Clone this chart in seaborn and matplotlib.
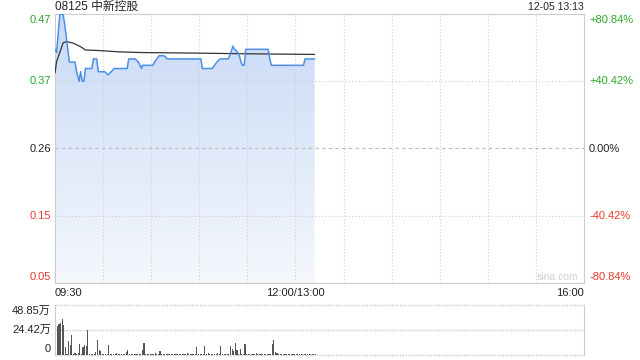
import numpy as np
import pandas as pd
import matplotlib
matplotlib.use("Agg")
import matplotlib.pyplot as plt
import seaborn as sns
from matplotlib.colors import LinearSegmentedColormap

sns.set_style("white")
plt.rcParams['font.family'] = ['Liberation Sans', 'Noto Sans CJK SC', 'DejaVu Sans']

# ---------------- data ----------------
title = "08125 中新控股"
stamp = "12-05 13:13"
prev_close = 0.26
pct_range = 0.8084
price_labels = ["0.47", "0.37", "0.26", "0.15", "0.05"]
pct_labels = ["+80.84%", "+40.42%", "0.00%", "-40.42%", "-80.84%"]
time_labels = ["09:30", "12:00/13:00", "16:00"]
vol_labels = ["48.85万", "24.42万", "0"]
vol_max = 48.85

price_minutes = [0, 1, 2, 3, 5, 6, 7.5, 9, 12.5, 13.5, 15, 16, 17, 18, 19, 23, 24, 26, 27, 31,
                 33, 35, 37, 45, 46, 50, 52, 54, 54.5, 61, 62, 65, 68, 70, 91, 92, 98, 101, 103, 108,
                 109, 111, 112, 114, 115, 116, 117, 118, 119, 133, 134, 135, 155, 156, 162]
price_values = [0.415, 0.41, 0.44, 0.47, 0.47, 0.455, 0.425, 0.395, 0.395, 0.38,
                0.365, 0.38, 0.365, 0.365, 0.385, 0.385, 0.40, 0.40, 0.38, 0.38,
                0.375, 0.38, 0.385, 0.385, 0.40, 0.40, 0.395, 0.385, 0.39, 0.39,
                0.395, 0.405, 0.405, 0.40, 0.40, 0.385, 0.385, 0.395, 0.40, 0.40,
                0.405, 0.42, 0.415, 0.41, 0.405, 0.395, 0.39, 0.39, 0.415, 0.415,
                0.40, 0.39, 0.39, 0.40, 0.40]

avg_minutes = [0, 1, 3, 5, 7, 11, 16, 19, 28, 40, 53, 90, 120, 162]
avg_values = [0.378, 0.396, 0.41, 0.425, 0.427, 0.425, 0.419, 0.414, 0.413, 0.411,
              0.41, 0.409, 0.408, 0.407]

volumes = [  # 万, one per minute from 09:30
    48.85, 28.3, 30.3, 31.6, 34.9, 29.3, 8.0, 0.5, 13.7, 9.8,
    19.5, 0.5, 1.5, 0.5, 2.0, 11.0, 0.5, 7.8, 9.8, 8.8,
    24.4, 0.5, 1.0, 0.5, 0.5, 3.0, 14.6, 5.0, 3.9, 0.5,
    0.5, 0.5, 0.5, 9.8, 0.5, 0.5, 0.5, 0.5, 1.5, 0.5,
    0.5, 0.5, 0.5, 0.5, 3.0, 4.5, 0.5, 0.5, 0.5, 0.5,
    0.5, 0.5, 0.5, 0.5, 5.0, 11.7, 0.5, 0.5, 0.5, 0.5,
    0.5, 0.5, 2.0, 0.5, 0.5, 3.5, 0.5, 0.5, 0.5, 0.5,
    0.5, 0.5, 0.5, 0.5, 0.5, 0.5, 0.5, 0.5, 0.5, 0.5,
    0.5, 0.5, 1.5, 0.5, 0.5, 0.5, 0.5, 0.5, 7.8, 0.5,
    0.5, 0.5, 0.5, 8.8, 0.5, 1.5, 0.5, 0.5, 0.5, 0.5,
    0.5, 1.5, 0.5, 8.8, 0.5, 0.5, 0.5, 0.5, 0.5, 8.8,
    5.5, 3.5, 11.4, 4.5, 0.5, 6.0, 0.5, 0.5, 10.6, 0.5,
    0.5, 0.5, 0.5, 0.5, 0.5, 1.5, 0.5, 0.5, 0.5, 0.5,
    0.5, 0.5, 0.5, 0.5, 1.0, 11.0, 14.3, 2.5, 1.5, 0.5,
    0.5, 0.5, 0.5, 0.5, 0.5, 0.5, 0.5, 0.5, 0.5, 0.5,
    0.5, 0.5, 0.5, 0.5, 0.5, 0.5, 1.0, 0.5, 0.5, 0.5,
    0.5, 0.5, 0.5]

total_minutes = 330
# --------------------------------------

W, H = 640, 360
fig = plt.figure(figsize=(W / 100, H / 100), dpi=100)
fig.patch.set_facecolor("white")

def fx(px):
    return px / W

def fy(py):
    return 1 - py / H

L, R = 55, 584
T1, B1 = 14, 283
T2, B2 = 305, 355
ax = fig.add_axes([fx(L), fy(B1), fx(R - L), (B1 - T1) / H])
axv = fig.add_axes([fx(L), fy(B2), fx(R - L), (B2 - T2) / H])

ymin = prev_close * (1 - pct_range)
ymax = prev_close * (1 + pct_range)
grid_c = "#cfcfcf"
green = "#27a627"
red = "#e8382f"

# ---- main price panel ----
ax.set_xlim(0, total_minutes)
ax.set_ylim(ymin, ymax)
levels = np.linspace(ymax, ymin, 5)
for i, lv in enumerate(levels[1:-1]):
    ax.axhline(lv, color="#b8b8b8" if i == 1 else grid_c,
               lw=0.8, ls=(0, (3, 3)) if i == 1 else (0, (1, 2)), zorder=2.5)
for m in range(30, total_minutes, 30):
    ax.axvline(m, color=grid_c, lw=0.8, ls=(0, (1, 2)), zorder=2.5)

df_p = pd.DataFrame({"minute": price_minutes, "price": price_values})
df_a = pd.DataFrame({"minute": avg_minutes, "avg": avg_values})

poly = ax.fill_between(df_p["minute"], df_p["price"], ymin, facecolor="none", edgecolor="none")
cmap = LinearSegmentedColormap.from_list("g", ["#f5f8fd", "#c8daf6"])
grad = np.linspace(0, 1, 256).reshape(-1, 1)
im = ax.imshow(grad, extent=[0, max(price_minutes), ymin, ymax], origin="lower",
               aspect="auto", cmap=cmap, zorder=2)
im.set_clip_path(poly.get_paths()[0], transform=ax.transData)

sns.lineplot(data=df_p, x="minute", y="price", ax=ax, sort=False, estimator=None,
             color="#4d8ee8", lw=1.1, zorder=4)
sns.lineplot(data=df_a, x="minute", y="avg", ax=ax, sort=False, estimator=None,
             color="#333333", lw=0.9, zorder=3)
ax.set_xlim(0, total_minutes)
ax.set_ylim(ymin, ymax)
ax.set_xticks([]); ax.set_yticks([])
ax.set_xlabel(""); ax.set_ylabel("")
for s in ax.spines.values():
    s.set_color("#cccccc"); s.set_linewidth(0.8)

fs = 8
lcolors = [green, green, "#222222", red, red]
yposs = [T1 + 6, T1 + (B1 - T1) / 4, T1 + (B1 - T1) / 2, T1 + 3 * (B1 - T1) / 4, B1 - 6]
for lab, pl, c, yp in zip(price_labels, pct_labels, lcolors, yposs):
    fig.text(fx(L - 4), fy(yp), lab, color=c, fontsize=fs, ha="right", va="center")
    fig.text(fx(R + 5), fy(yp), pl, color=c, fontsize=fs, ha="left", va="center")

fig.text(fx(L), fy(7), title, fontsize=fs + 0.5, color="#222222", ha="left", va="center")
fig.text(fx(R), fy(7), stamp, fontsize=fs - 0.5, color="#222222", ha="right", va="center")
fig.text(fx(R - 6), fy(B1 - 6), "sina.com", fontsize=fs - 0.5, color="#d0d0d0",
         ha="right", va="center")

fig.text(fx(L), fy(293), time_labels[0], fontsize=fs, color="#222222", ha="left", va="center")
mid_x = L + (R - L) * 150 / total_minutes
fig.text(fx(mid_x), fy(293), time_labels[1], fontsize=fs, color="#222222", ha="center", va="center")
fig.text(fx(R), fy(293), time_labels[2], fontsize=fs, color="#222222", ha="right", va="center")

# ---- volume panel ----
df_v = pd.DataFrame({"minute": np.arange(len(volumes)), "vol": volumes})
sns.barplot(data=df_v, x="minute", y="vol", ax=axv, color="#555555", saturation=1,
            width=0.7, linewidth=0, order=list(range(len(volumes))))
axv.set_xlim(-0.5, total_minutes - 0.5)
axv.set_ylim(0, vol_max)
axv.set_xticks([]); axv.set_yticks([])
axv.set_xlabel(""); axv.set_ylabel("")
for side in ["top", "bottom"]:
    axv.spines[side].set_visible(False)
for side in ["left", "right"]:
    axv.spines[side].set_color("#cccccc"); axv.spines[side].set_linewidth(0.8)
for lv in [0, vol_max / 2, vol_max]:
    axv.axhline(lv, color="#c8c8c8", lw=1.0, ls=(0, (1, 1)), zorder=0, clip_on=False)

vy = [T2 + 6, (T2 + B2) / 2, B2 - 6]
for lab, yp in zip(vol_labels, vy):
    fig.text(fx(L - 4), fy(yp), lab, fontsize=fs, color="#222222", ha="right", va="center")

fig.savefig("out.png", dpi=100, facecolor="white")
